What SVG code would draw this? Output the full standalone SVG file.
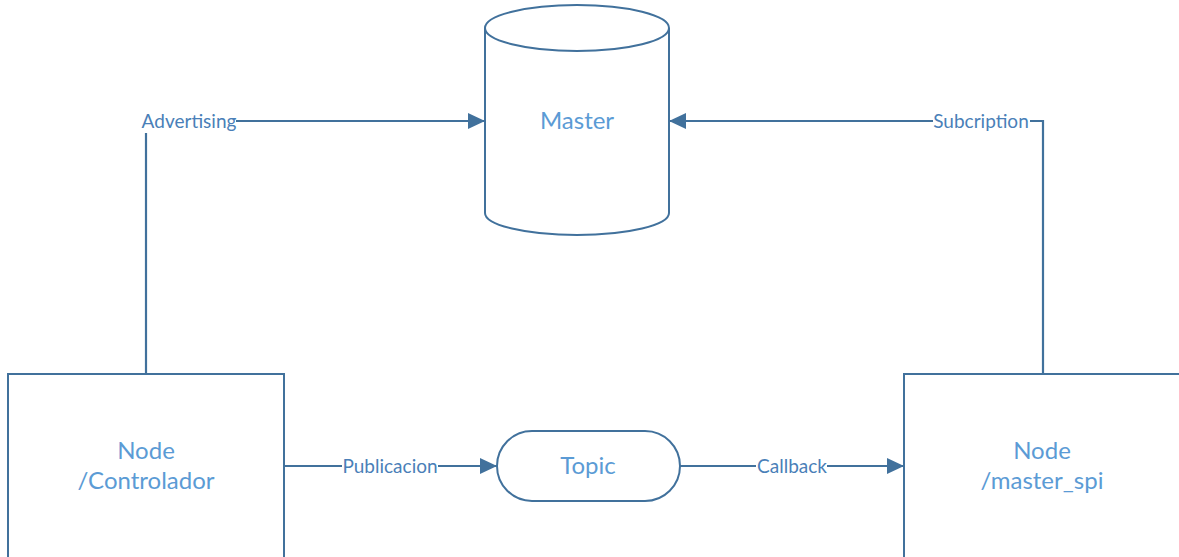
<svg xmlns="http://www.w3.org/2000/svg" width="1179" height="557" viewBox="0 0 1179 557">
<style>
.shape{fill:#fff;stroke:#41719C;stroke-width:2}
.line{fill:none;stroke:#41719C;stroke-width:2.2}
.ntext{font-family:Lato,"Open Sans",sans-serif;font-size:24px;fill:#5B9BD5;text-anchor:middle;dominant-baseline:central}
.ltext{font-family:Lato,"Open Sans",sans-serif;font-size:19px;fill:#4A7FB8;text-anchor:middle;dominant-baseline:central}
</style>
<defs>
<marker id="ah" viewBox="0 0 17 16" refX="17" refY="8" markerWidth="17" markerHeight="16" markerUnits="userSpaceOnUse" orient="auto">
<path d="M0,0 L17,8 L0,16 Z" fill="#41719C"/>
</marker>
</defs>
<rect width="1179" height="557" fill="#fff"/>
<g id="connectors">
<path class="line" d="M146,374 V133"/>
<path class="line" d="M236,121 H485" marker-end="url(#ah)"/>
<text class="ltext" x="189" y="120">Advertising</text>
<path class="line" d="M1043,374 V121 H1030"/>
<path class="line" d="M933,121 H669" marker-end="url(#ah)"/>
<text class="ltext" x="981" y="120">Subcription</text>
<path class="line" d="M284,466 H342"/>
<path class="line" d="M438,466 H497" marker-end="url(#ah)"/>
<text class="ltext" x="390" y="465">Publicacion</text>
<path class="line" d="M680,466 H756"/>
<path class="line" d="M827,466 H904" marker-end="url(#ah)"/>
<text class="ltext" x="792" y="465">Callback</text>
</g>
<g id="master">
<path class="shape" d="M485,28 V213 A92,22 0 0 0 669,213 V28 A92,23 0 0 0 485,28 Z"/>
<path class="line" d="M485,28 A92,23 0 0 0 669,28" style="stroke-width:2"/>
<text class="ntext" x="577" y="119">Master</text>
</g>
<g id="controlador">
<rect class="shape" x="8" y="374" width="276" height="200"/>
<text class="ntext" x="146" y="449">Node</text>
<text class="ntext" x="146" y="479">/Controlador</text>
</g>
<g id="topic">
<rect class="shape" x="497" y="431" width="183" height="70" rx="35" ry="35"/>
<text class="ntext" x="588" y="464">Topic</text>
</g>
<g id="master_spi">
<rect class="shape" x="904" y="374" width="300" height="200"/>
<text class="ntext" x="1042" y="449">Node</text>
<text class="ntext" x="1042" y="479">/master_spi</text>
</g>
</svg>
